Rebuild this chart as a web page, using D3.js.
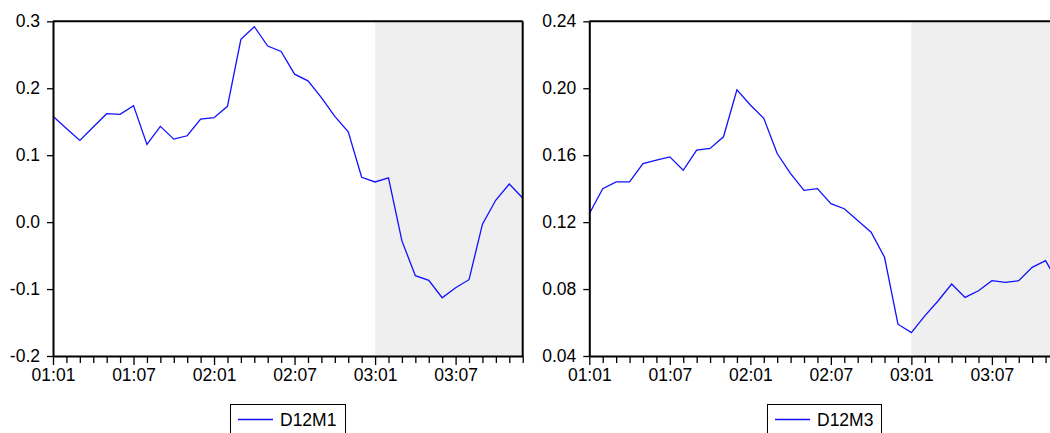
<!DOCTYPE html>
<html>
<head>
<meta charset="utf-8">
<script src="https://cdn.jsdelivr.net/npm/d3@7"></script>
<style>
  html, body { margin: 0; padding: 0; background: #fff; }
  svg { display: block; }
</style>
</head>
<body>
<svg id="chart" width="1050" height="433"></svg>
<script>
const months = [
  '01:01','01:02','01:03','01:04','01:05','01:06','01:07','01:08','01:09','01:10','01:11','01:12',
  '02:01','02:02','02:03','02:04','02:05','02:06','02:07','02:08','02:09','02:10','02:11','02:12',
  '03:01','03:02','03:03','03:04','03:05','03:06','03:07','03:08','03:09','03:10','03:11','03:12'
]
const tickLabels = ['01:01', '01:07', '02:01', '02:07', '03:01', '03:07']
const shadeStart = '03:01'

const d12m1 = [
  0.158, 0.140, 0.122, 0.142, 0.162, 0.161, 0.174, 0.116, 0.143, 0.124, 0.129, 0.154,
  0.156, 0.173, 0.273, 0.292, 0.263, 0.255, 0.221, 0.211, 0.186, 0.158, 0.135, 0.067,
  0.060, 0.066, -0.028, -0.080, -0.087, -0.113, -0.098, -0.086, -0.003, 0.033, 0.057, 0.036
]
const d12m3 = [
  0.125, 0.140, 0.144, 0.144, 0.155, 0.157, 0.159, 0.151, 0.163, 0.164, 0.171, 0.199,
  0.190, 0.182, 0.161, 0.149, 0.139, 0.140, 0.131, 0.128, 0.121, 0.114, 0.099, 0.059,
  0.054, 0.064, 0.073, 0.083, 0.075, 0.079, 0.085, 0.084, 0.085, 0.093, 0.097, 0.083
]
const ticks1 = [-0.2, -0.1, 0.0, 0.1, 0.2, 0.3]
const ticks3 = [0.04, 0.08, 0.12, 0.16, 0.20, 0.24]

const panels = [
  { name: 'D12M1', values: d12m1, ticks: ticks1, fmt: '.1f', left: 53, right: 522.7, legend: [230, 345] },
  { name: 'D12M3', values: d12m3, ticks: ticks3, fmt: '.2f', left: 589.3, right: 1059, legend: [767, 881] }
]

const plotTop = 21.3
const plotBottom = 356
const font = 'Liberation Sans, Arial, sans-serif'
const fontSize = 17.5

const svg = d3.select('#chart')

panels.forEach((p) => {
  const x = d3.scaleLinear().domain([0, months.length - 1]).range([p.left, p.right])
  const y = d3.scaleLinear().domain(d3.extent(p.ticks)).range([plotBottom, plotTop])
  const fmt = d3.format(p.fmt)

  const g = svg.append('g')

  // shaded forecast period
  g.append('rect')
    .attr('x', x(months.indexOf(shadeStart)))
    .attr('y', plotTop)
    .attr('width', x(months.length - 1) - x(months.indexOf(shadeStart)))
    .attr('height', plotBottom - plotTop)
    .attr('fill', '#efefef')

  const line = d3.line()
    .x((_, i) => x(i))
    .y((d) => y(d))

  g.append('path')
    .datum(p.values)
    .attr('d', line)
    .attr('fill', 'none')
    .attr('stroke', '#1010ff')
    .attr('stroke-width', 1.3)

  // frame
  g.append('line')
    .attr('x1', p.left).attr('x2', p.right)
    .attr('y1', plotTop).attr('y2', plotTop)
    .attr('stroke', '#000').attr('stroke-width', 2)
  g.append('line')
    .attr('x1', p.right).attr('x2', p.right)
    .attr('y1', plotTop).attr('y2', plotBottom)
    .attr('stroke', '#000').attr('stroke-width', 2)

  const xAxis = d3.axisBottom(x)
    .tickValues(d3.range(months.length))
    .tickSize(7)
    .tickSizeOuter(0)
    .tickPadding(6)
    .tickFormat((i) => (tickLabels.includes(months[i]) ? months[i] : ''))

  const gx = g.append('g')
    .attr('transform', `translate(0,${plotBottom})`)
    .call(xAxis)
  gx.select('.domain').attr('stroke-width', 2)
  gx.selectAll('.tick line').attr('stroke-width', 1.3)
  gx.selectAll('.tick').filter((i) => tickLabels.includes(months[i]))
    .select('line').attr('y2', 9)
  gx.selectAll('text')
    .attr('font-family', font)
    .attr('font-size', fontSize)
    .attr('fill', '#000')

  const yAxis = d3.axisLeft(y)
    .tickValues(p.ticks)
    .tickSize(6)
    .tickSizeOuter(0)
    .tickPadding(7)
    .tickFormat((d) => fmt(d).replace('\u2212', '-'))

  const gy = g.append('g')
    .attr('transform', `translate(${p.left},0)`)
    .call(yAxis)
  gy.select('.domain').attr('stroke-width', 2)
  gy.selectAll('.tick line').attr('stroke-width', 1.3)
  gy.selectAll('text')
    .attr('font-family', font)
    .attr('font-size', fontSize)
    .attr('fill', '#000')

  // legend
  const [lx0, lx1] = p.legend
  const lg = svg.append('g')
  lg.append('rect')
    .attr('x', lx0 + 0.5).attr('y', 404.5)
    .attr('width', lx1 - lx0).attr('height', 40)
    .attr('fill', '#fff').attr('stroke', '#000').attr('stroke-width', 1)
  lg.append('line')
    .attr('x1', lx0 + 8).attr('x2', lx0 + 43)
    .attr('y1', 419.5).attr('y2', 419.5)
    .attr('stroke', '#1010ff').attr('stroke-width', 1.3)
  lg.append('text')
    .attr('x', lx0 + 50).attr('y', 425.5)
    .attr('font-family', font)
    .attr('font-size', fontSize)
    .attr('fill', '#000')
    .text(p.name)
})
</script>
</body>
</html>
